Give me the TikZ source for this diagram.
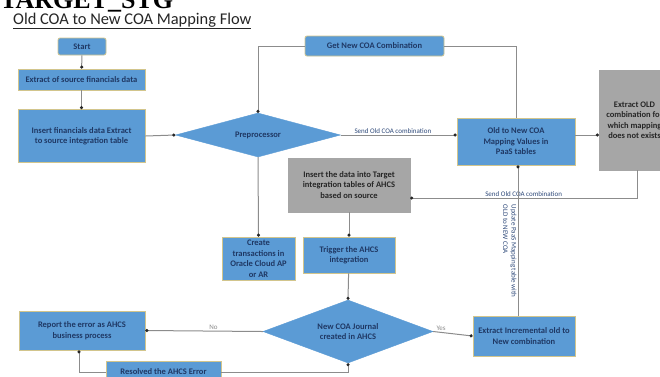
\documentclass[tikz,border=0pt]{standalone}
\usepackage{fontspec}
\setmainfont{Carlito}
\newfontfamily\tnr{Liberation Serif}
\usetikzlibrary{shapes.geometric,arrows.meta}
\definecolor{bfill}{HTML}{5B9BD5}
\definecolor{bedge}{HTML}{D2C58C}
\definecolor{gfill}{HTML}{A6A6A6}
\definecolor{btext}{HTML}{1F3864}
\definecolor{gtext}{HTML}{262626}
\definecolor{lin}{HTML}{8C8C8C}
\definecolor{lbl}{HTML}{2F4A7A}
\tikzset{
  bbox/.style={draw=bedge, line width=0.8pt, fill=bfill, text=btext, font=\fontsize{8.5}{10.5}\selectfont\bfseries, align=center, inner sep=0.5pt},
  gbox/.style={draw=gfill, fill=gfill, text=gtext, font=\fontsize{8.5}{10.5}\selectfont\bfseries, align=center, inner sep=0.5pt},
  dia/.style={diamond, draw=bfill, fill=bfill, text=btext, font=\fontsize{8.5}{10.5}\selectfont\bfseries, align=center, inner sep=0pt},
  conn/.style={draw=lin, line width=1pt, -{Circle[length=3pt, color=gtext]}},
  plain/.style={draw=lin, line width=1pt},
  elbl/.style={font=\fontsize{7}{8.5}\selectfont, text=lbl, inner sep=1pt},
}
\begin{document}
\begin{tikzpicture}[x=1pt,y=-1pt]
\useasboundingbox (0,0) rectangle (660,376);
\clip (0,0) rectangle (660,376);
\fill[white] (0,0) rectangle (660,376);
% headings
\node[anchor=base west, inner sep=0pt, font=\tnr\bfseries\fontsize{26}{28}\selectfont] (hdr) at (0,8) {TARGET\_STG};
\node[anchor=base west, inner sep=0pt, font=\fontsize{16.4}{18}\selectfont, text=gtext] (ttl) at (13,24) {\underline{Old COA to New COA Mapping Flow}};
% nodes
\node[bbox, rounded corners=2pt, minimum width=48pt, minimum height=17pt] (start) at (82,46.5) {Start};
\node[bbox, minimum width=127pt, minimum height=21pt] (ext) at (81.5,79.5) {Extract of source financials data};
\node[bbox, minimum width=127pt, minimum height=53pt] (ins) at (81.5,136) {Insert financials data Extract\\to source integration table};
\node[dia, minimum width=165pt, minimum height=44pt, aspect=3.75] (pre) at (258,135) {Preprocessor};
\node[bbox, rounded corners=2pt, minimum width=139pt, minimum height=20pt] (get) at (374.5,46) {Get New COA Combination};
\node[bbox, minimum width=118pt, minimum height=47pt] (old) at (516,141.5) {Old to New COA\\Mapping Values in\\PaaS tables};
\node[gbox, minimum width=71pt, minimum height=100pt] (exold) at (634.5,120) {Extract OLD\\combination for\\which mapping\\does not exists};
\node[gbox, minimum width=122pt, minimum height=54pt] (insd) at (349,185) {Insert the data into Target\\integration tables of AHCS\\based on source};
\node[bbox, minimum width=92pt, minimum height=36pt] (trig) at (349,255) {Trigger the AHCS\\integration};
\node[bbox, minimum width=73pt, minimum height=43pt] (create) at (258.5,258.5) {Create\\transactions in\\Oracle Cloud AP\\or AR};
\node[dia, minimum width=170pt, minimum height=63pt, aspect=2.7] (newj) at (348,331.5) {New COA Journal\\created in AHCS};
\node[bbox, minimum width=126pt, minimum height=39pt] (report) at (82,330.5) {Report the error as AHCS\\business process};
\node[bbox, minimum width=102pt, minimum height=40pt] (incr) at (524,336) {Extract Incremental old to\\New combination};
\node[bbox, minimum width=115pt, minimum height=22pt] (res) at (163.5,372) {Resolved the AHCS Error};
% connectors
\draw[conn] (start) -- (ext);
\draw[conn] (ext) -- (ins);
\draw[conn] (ins.east) -- (pre.west);
\draw[plain] (old.north) |- (get.east);
\draw[conn] (get.west) -| (pre.north);
\draw[conn] (pre.east) -- node[elbl, above, pos=0.45] {Send Old COA combination} (pre.east -| old.west);
\draw[conn] ([yshift=6.5pt]old.east) -- ([yshift=6.5pt]old.east -| exold.west);
\draw[conn] ([xshift=2.5pt]exold.south) |- node[elbl, above, pos=0.75] {Send Old COA combination} ([yshift=-13pt]insd.east);
\draw[conn] (insd) -- (trig);
\draw[conn] (pre.south) -- (create.north);
\draw[conn] (trig) -- (newj.north);
\draw[conn] (newj.west) -- node[elbl, above, text=lin, pos=0.42] {No} (report.east);
\draw[conn] (newj.east) -- node[elbl, above, text=lin, pos=0.2] {Yes} (incr.west);
\draw[conn] ([xshift=-6pt]incr.north) -- node[elbl, rotate=-90, anchor=north west, align=left, pos=0.735, xshift=-2pt] {Update PaaS Mapping table with\\OLD to NEW COA} ([xshift=2pt]old.south);
\draw[conn] (res.west) -| ([xshift=-3pt]report.south);
\draw[conn] (res.east) -| (newj.south);
\end{tikzpicture}
\end{document}
